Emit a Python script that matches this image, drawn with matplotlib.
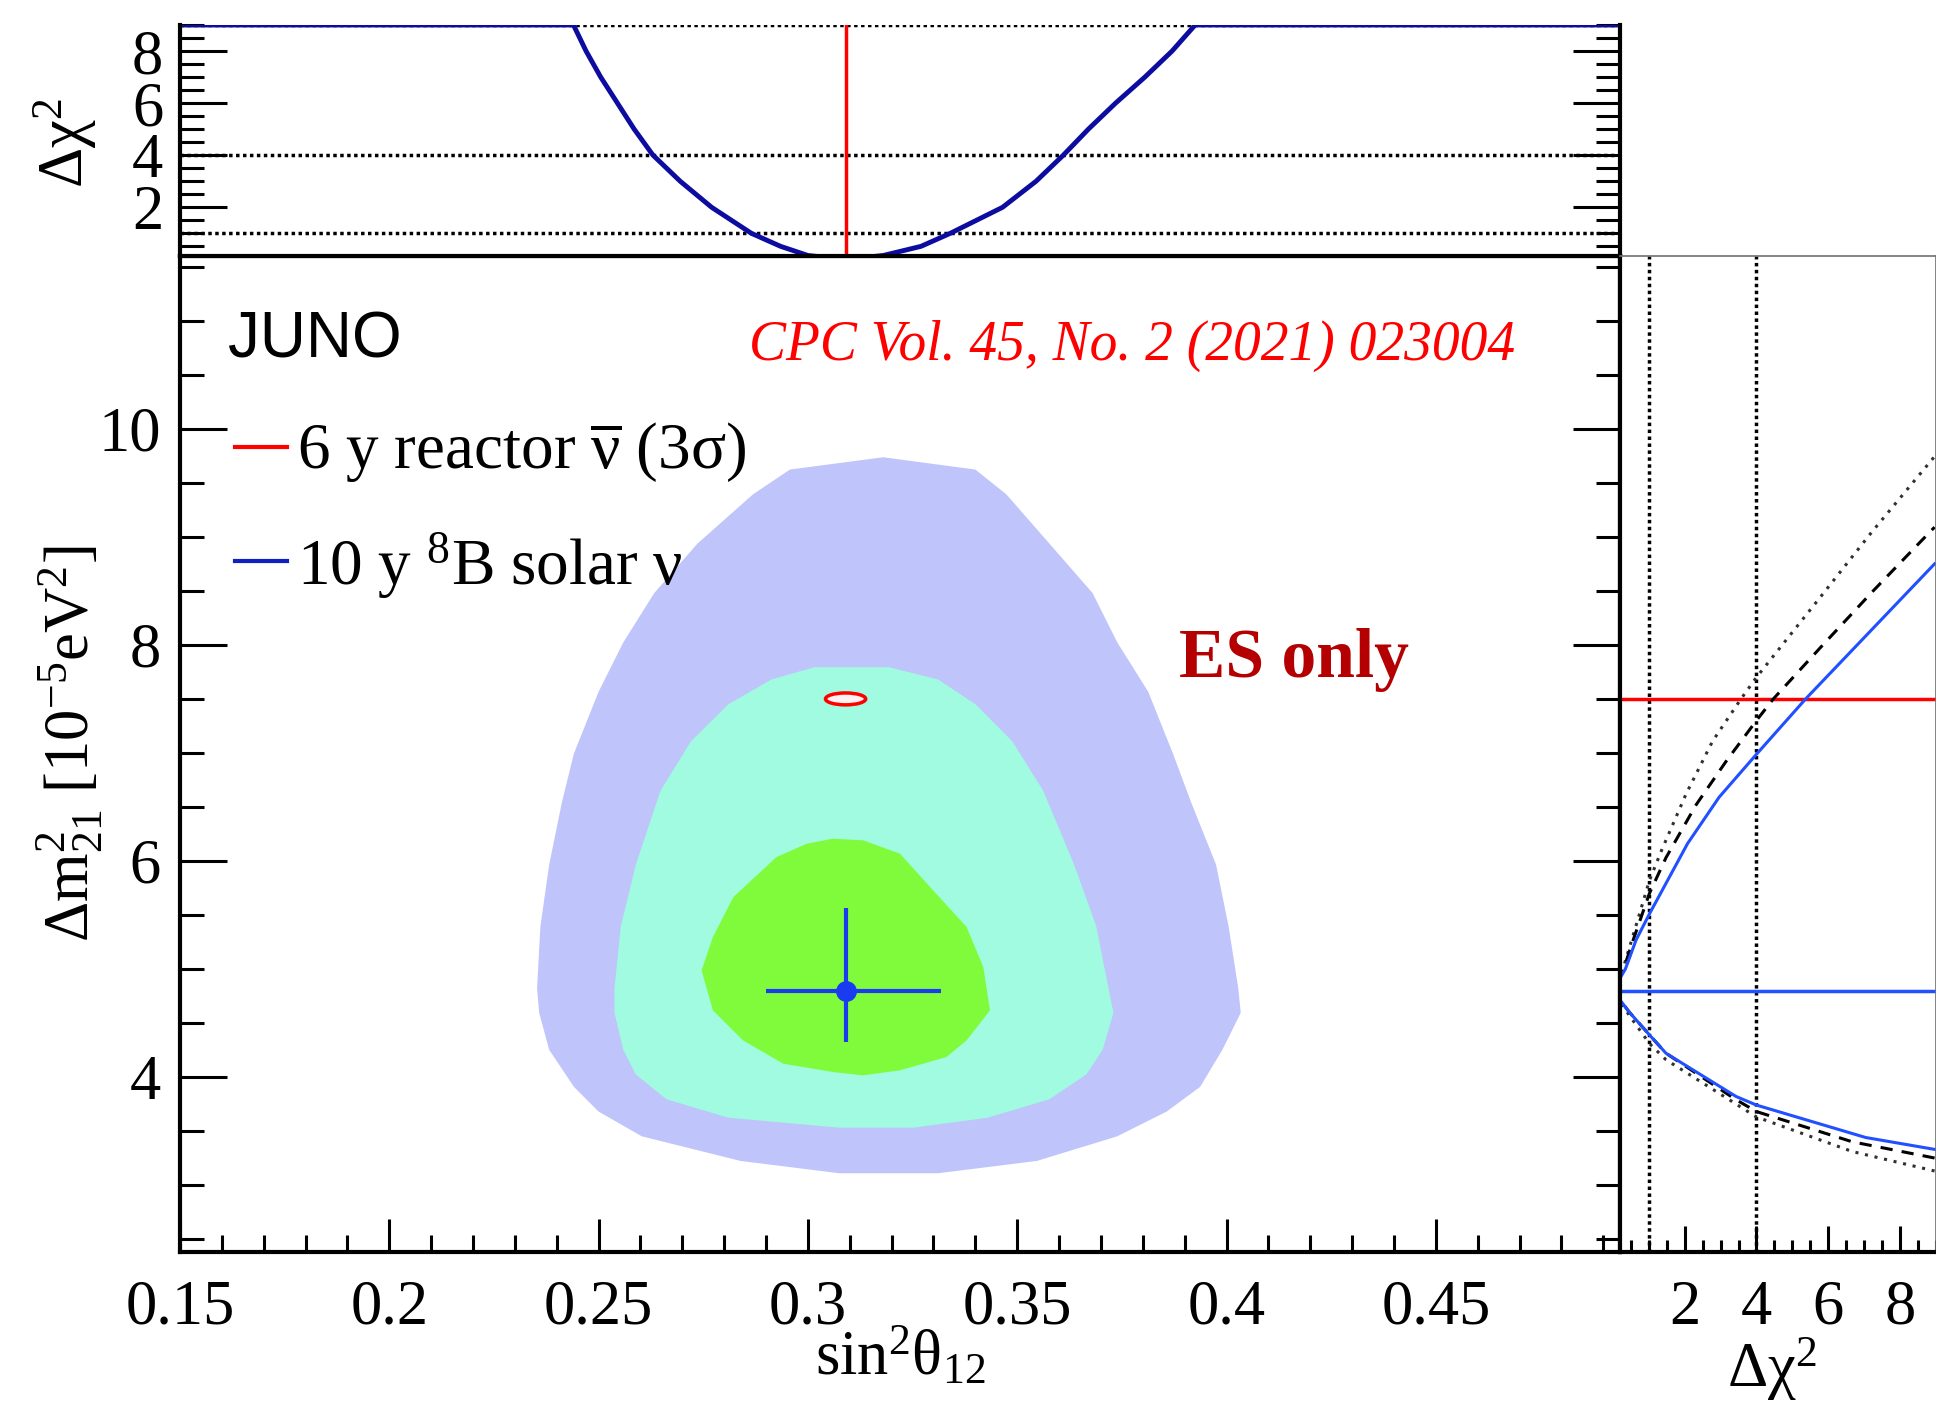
import matplotlib
matplotlib.use("Agg")
import matplotlib.pyplot as plt
from matplotlib.lines import Line2D
from matplotlib.patches import Ellipse
from matplotlib.ticker import MultipleLocator, FuncFormatter

plt.rcParams['font.family'] = ['Liberation Serif', 'DejaVu Serif']
plt.rcParams['mathtext.fontset'] = 'custom'
plt.rcParams['mathtext.rm'] = 'Liberation Serif'
plt.rcParams['mathtext.it'] = 'Liberation Serif:italic'
plt.rcParams['mathtext.bf'] = 'Liberation Serif:bold'

# ---------------- data ----------------
# 1/2/3 sigma allowed regions, 10 y 8B solar nu (ES only)
outer_s2 = [0.318, 0.340, 0.3474, 0.3577, 0.368, 0.3739, 0.3813, 0.3872, 0.3916, 0.3975,
            0.4005, 0.4028, 0.4034, 0.3990, 0.3937, 0.3857, 0.3739, 0.3547, 0.3311, 0.3075,
            0.2839, 0.2603, 0.250, 0.2441, 0.2382, 0.2358, 0.2353, 0.2361, 0.2382, 0.2412,
            0.2441, 0.250, 0.2559, 0.2633, 0.2736, 0.2869, 0.2957]
outer_dm2 = [9.737, 9.623, 9.394, 8.937, 8.48, 8.023, 7.566, 6.994, 6.537, 5.966,
             5.394, 4.823, 4.594, 4.251, 3.909, 3.68, 3.451, 3.223, 3.109, 3.109,
             3.223, 3.451, 3.68, 3.909, 4.251, 4.594, 4.823, 5.394, 5.966, 6.537,
             6.994, 7.566, 8.023, 8.48, 8.937, 9.394, 9.623]

middle_s2 = [0.3016, 0.3193, 0.3311, 0.340, 0.3488, 0.3562, 0.3636, 0.3689, 0.3718, 0.373,
             0.3704, 0.3665, 0.3577, 0.3429, 0.3252, 0.3075, 0.281, 0.2662, 0.2589, 0.2559,
             0.2538, 0.2538, 0.2553, 0.2589, 0.2648, 0.2721, 0.281, 0.2913]
middle_dm2 = [7.794, 7.794, 7.68, 7.451, 7.109, 6.651, 5.966, 5.394, 4.823, 4.594,
              4.251, 4.023, 3.794, 3.623, 3.531, 3.531, 3.623, 3.794, 4.023, 4.251,
              4.594, 4.823, 5.394, 5.966, 6.651, 7.109, 7.451, 7.68]

inner_s2 = [0.3060, 0.3132, 0.3220, 0.3299, 0.3379, 0.3419, 0.3435, 0.3379, 0.3331, 0.3220,
            0.3132, 0.3060, 0.2941, 0.2845, 0.2773, 0.2746, 0.2773, 0.2822, 0.2925, 0.2997]
inner_dm2 = [6.206, 6.191, 6.067, 5.728, 5.389, 5.018, 4.617, 4.339, 4.185, 4.062,
             4.015, 4.046, 4.123, 4.339, 4.617, 4.987, 5.296, 5.666, 6.036, 6.159]

# best fit and 1 sigma errors (solar)
bf_s2 = 0.309
bf_s2_err = (0.0191, 0.0227)
bf_dm2 = 4.80
bf_dm2_err = (0.48, 0.76)

# reactor 6 y, 3 sigma contour
reactor_s2 = 0.309
reactor_dm2 = 7.50
reactor_w = 0.0096
reactor_h = 0.11

# 1D profile in sin^2(theta12)
prof_s2 = [0.150, 0.244, 0.247, 0.2505, 0.2545, 0.2585, 0.263, 0.2695, 0.277, 0.2865,
           0.2935, 0.300, 0.309, 0.318, 0.327, 0.334, 0.3465, 0.3545, 0.361, 0.367,
           0.3735, 0.3805, 0.387, 0.3925, 0.494]
prof_chi = [9.0, 9.0, 8.0, 7.0, 6.0, 5.0, 4.0, 3.0, 2.0, 1.0,
            0.5, 0.15, 0.0, 0.15, 0.5, 1.0, 2.0, 3.0, 4.0, 5.0,
            6.0, 7.0, 8.0, 9.0, 9.0]

# 1D profiles in dm2_21
solar_dm2 = [3.33, 3.44, 3.74, 3.82, 4.22, 4.39, 4.60, 4.80, 5.00, 5.27, 5.51, 6.16, 6.59, 6.98, 7.50, 8.75]
solar_chi = [8.96, 7.04, 4.0, 3.43, 1.48, 1.02, 0.46, 0.0, 0.35, 0.65, 1.02, 2.08, 2.96, 3.98, 5.37, 8.96]

dash_dm2 = [3.25, 3.40, 3.68, 3.79, 4.22, 4.39, 4.60, 4.80, 5.00, 5.30, 5.70, 6.03, 6.52, 6.92,
            7.30, 7.50, 8.00, 8.50, 9.09]
dash_chi = [8.96, 6.67, 4.0, 3.43, 1.48, 1.02, 0.46, 0.0, 0.3, 0.6, 1.02, 1.48, 2.32, 3.15,
            4.0, 4.47, 5.85, 7.25, 8.96]

dot_dm2 = [3.13, 3.31, 3.63, 4.16, 4.31, 4.57, 4.80, 5.02, 5.35, 5.82, 6.10, 6.62, 7.11,
           7.50, 7.70, 8.43, 9.04, 9.76]
dot_chi = [8.96, 6.67, 4.0, 1.48, 1.02, 0.46, 0.0, 0.3, 0.6, 1.02, 1.36, 2.04, 2.78,
           3.57, 4.0, 5.75, 7.2, 9.0]

chi_levels = [1, 4, 9]

# ---------------- figure ----------------
W, H = 1936, 1401
fig = plt.figure(figsize=(W / 100, H / 100), dpi=100)
ax_main = fig.add_axes([180 / W, 149 / H, 1440 / W, 996 / H])
ax_top = fig.add_axes([180 / W, 1145 / H, 1440 / W, 231 / H])
ax_right = fig.add_axes([1620 / W, 149 / H, 316 / W, 996 / H])

c_outer = '#bfc4fb'
c_middle = '#a0fbe0'
c_inner = '#80fb3c'
c_blue = '#2050ff'

# main panel
ax_main.fill(outer_s2, outer_dm2, color=c_outer, lw=0)
ax_main.fill(middle_s2, middle_dm2, color=c_middle, lw=0)
ax_main.fill(inner_s2, inner_dm2, color=c_inner, lw=0)
ax_main.add_patch(Ellipse((reactor_s2, reactor_dm2), reactor_w, reactor_h,
                          edgecolor='red', facecolor='#fff2f2', lw=2.5))
ax_main.errorbar(bf_s2, bf_dm2, xerr=[[bf_s2_err[0]], [bf_s2_err[1]]],
                 yerr=[[bf_dm2_err[0]], [bf_dm2_err[1]]], fmt='o', color='#1a3cf0',
                 ms=14, elinewidth=3, capsize=0)

ax_main.set_xlim(0.15, 0.494)
ax_main.set_ylim(2.38, 11.6)
ax_main.xaxis.set_major_locator(MultipleLocator(0.05))
ax_main.xaxis.set_minor_locator(MultipleLocator(0.01))
ax_main.yaxis.set_major_locator(MultipleLocator(2))
ax_main.yaxis.set_minor_locator(MultipleLocator(0.5))
ax_main.xaxis.set_major_formatter(FuncFormatter(lambda v, p: f'{v:g}'))
ax_main.tick_params(axis='x', which='both', direction='in', top=False, bottom=True,
                    width=2.2, labelsize=45, pad=20)
ax_main.tick_params(axis='x', which='major', length=24)
ax_main.tick_params(axis='x', which='minor', length=12)
ax_main.tick_params(axis='y', which='both', direction='in', left=True, right=True,
                    width=2.2, labelsize=45, pad=14)
ax_main.tick_params(axis='y', which='major', length=34)
ax_main.tick_params(axis='y', which='minor', length=17)
for s in ax_main.spines.values():
    s.set_linewidth(3)

ax_main.set_xlabel(r'$\mathrm{sin^{2}\theta_{12}}$', fontsize=45)
ax_main.xaxis.set_label_coords(0.5, -0.075)
ax_main.set_ylabel(r'$\mathrm{\Delta m^{2}_{21}\ [10^{-5}eV^{2}]}$', fontsize=45)
ax_main.yaxis.set_label_coords(-0.052, 0.51)

ax_main.text(0.033, 0.8976, 'JUNO', family='Liberation Sans', fontsize=46,
             transform=ax_main.transAxes, va='baseline')
ax_main.text(0.395, 0.8956, 'CPC Vol. 45, No. 2 (2021) 023004', color='red',
             style='italic', fontsize=40, transform=ax_main.transAxes, va='baseline')
ax_main.text(0.694, 0.577, 'ES only', color='#b40000', fontweight='bold', fontsize=50,
             transform=ax_main.transAxes, va='baseline')

handles = [Line2D([], [], color='red', lw=3), Line2D([], [], color='#1020c0', lw=3)]
labels = [r'$\mathrm{6\ y\ reactor\ \overline{\nu}\ (3\sigma)}$',
          r'$\mathrm{10\ y\ {}^{8}B\ solar\ \nu}$']
ax_main.legend(handles, labels, loc='upper left', bbox_to_anchor=(0.038, 0.834),
               frameon=False, fontsize=47, handlelength=0.8, handletextpad=0.15,
               borderpad=0, borderaxespad=0, labelspacing=0.68)

# top panel: profile in sin^2(theta12)
for lvl in chi_levels:
    ax_top.axhline(lvl, color='black', lw=2.5, ls=(0, (1, 1)))
ax_top.axvline(reactor_s2, color='red', lw=2.5)
ax_top.plot(prof_s2, prof_chi, color='#0c0ca0', lw=3.5)
ax_top.set_xlim(0.15, 0.494)
ax_top.set_ylim(0.13, 9.0)
ax_top.yaxis.set_major_locator(MultipleLocator(2))
ax_top.yaxis.set_minor_locator(MultipleLocator(0.5))
ax_top.tick_params(axis='x', which='both', bottom=False, top=False, labelbottom=False)
ax_top.tick_params(axis='y', which='both', direction='in', left=True, right=True,
                   width=2.2, labelsize=45, pad=12)
ax_top.tick_params(axis='y', which='major', length=34)
ax_top.tick_params(axis='y', which='minor', length=17)
for s in ax_top.spines.values():
    s.set_linewidth(3)
ax_top.spines['top'].set_visible(False)
ax_top.set_ylabel(r'$\mathrm{\Delta\chi^{2}}$', fontsize=45)
ax_top.yaxis.set_label_coords(-0.056, 0.49)

# right panel: profile in dm2_21
for lvl in chi_levels[:2]:
    ax_right.axvline(lvl, color='black', lw=2.5, ls=(0, (1, 1)))
ax_right.axhline(reactor_dm2, color='red', lw=2.5)
ax_right.axhline(bf_dm2, color=c_blue, lw=2.5)
ax_right.plot(dot_chi, dot_dm2, color='#303030', lw=2.2, ls=(0, (1, 2.2)))
ax_right.plot(dash_chi, dash_dm2, color='black', lw=2.2, ls=(0, (4, 3)))
ax_right.plot(solar_chi, solar_dm2, color=c_blue, lw=2.2)
ax_right.set_xlim(0.2, 9.0)
ax_right.set_ylim(2.38, 11.6)
ax_right.xaxis.set_major_locator(MultipleLocator(2))
ax_right.xaxis.set_minor_locator(MultipleLocator(0.5))
ax_right.tick_params(axis='y', which='both', left=False, right=False, labelleft=False)
ax_right.tick_params(axis='x', which='both', direction='in', width=2.2, labelsize=45, pad=20)
ax_right.tick_params(axis='x', which='major', length=19)
ax_right.tick_params(axis='x', which='minor', length=9)
ax_right.spines['bottom'].set_linewidth(3)
ax_right.spines['left'].set_linewidth(3)
for side in ('top', 'right'):
    ax_right.spines[side].set_linewidth(1.2)
    ax_right.spines[side].set_color('#707070')
ax_right.set_xlabel(r'$\mathrm{\Delta\chi^{2}}$', fontsize=45)
ax_right.xaxis.set_label_coords(0.48, -0.084)

fig.savefig('out.png', dpi=100)
